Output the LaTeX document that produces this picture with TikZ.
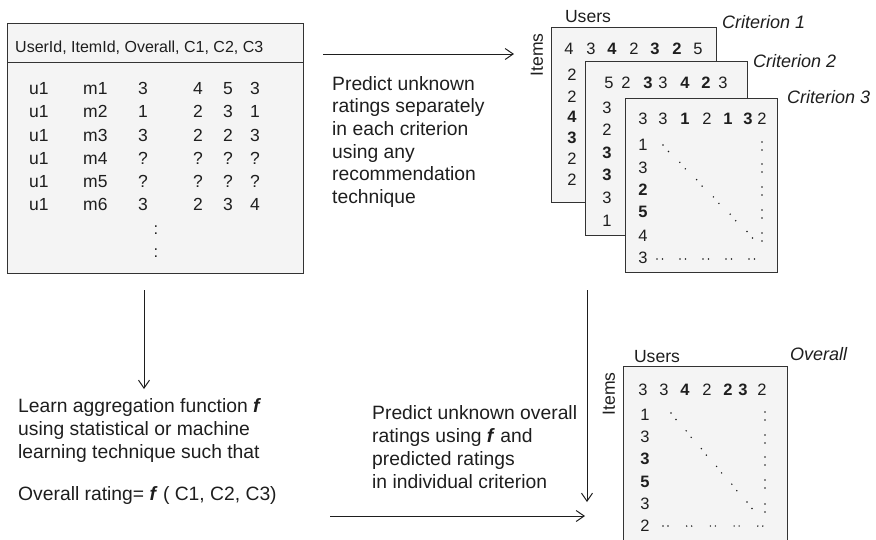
\documentclass[tikz,border=0pt]{standalone}
\usepackage{fontspec}
\setmainfont{Liberation Sans}
\usetikzlibrary{positioning,arrows.meta}
\definecolor{ink}{HTML}{1E1E1E}
\definecolor{rim}{HTML}{333333}
\definecolor{pane}{HTML}{F4F4F4}

\begin{document}
\begin{tikzpicture}[
  x=1pt, y=-1pt,
  font=\fontsize{19.3}{22.7}\selectfont,
  pane/.style={draw=rim, line width=1.1pt, fill=pane, inner sep=0pt, anchor=north west},
  txt/.style={align=left, inner sep=0pt, anchor=base west, text=ink},
  cell/.style={inner sep=0pt, anchor=base west, text=ink, font=\fontsize{17.5}{20}\selectfont},
  num/.style={inner sep=0pt, text=ink, font=\fontsize{16.5}{19}\selectfont},
  lab/.style={inner sep=0pt, text=ink, font=\fontsize{17.6}{20}\selectfont},
  crit/.style={inner sep=0pt, anchor=base west, text=ink, font=\itshape\fontsize{18}{20}\selectfont},
  dot/.style={fill=ink},
  flow/.style={-{Straight Barb[length=8pt,width=11pt]}, line width=1pt, ink}
]
\useasboundingbox (0,0) rectangle (876,539);

% ---------------------------------------------------------------- ratings table
\node[pane, minimum width=296, minimum height=250] (tbl) at (7,23) {};
\coordinate (hl) at (7,62);
\draw[rim, line width=1pt] (hl) -- (hl -| tbl.east);
\node[cell, font=\fontsize{16}{18}\selectfont] (hdr) at (15,52) {UserId, ItemId, Overall, C1, C2, C3};
\foreach \ry/\m/\o/\ca/\cb/\cc [count=\k] in
  {94/m1/3/4/5/3, 117.5/m2/1/2/3/1, 141/m3/3/2/2/3, 164/m4/?/?/?/?, 187.5/m5/?/?/?/?, 210/m6/3/2/3/4} {
  \node[cell] (u\k) at (29,\ry) {u1};
  \node[cell] (m\k) at (83,\ry) {\m};
  \node[cell] (o\k) at (138,\ry) {\o};
  \node[cell] (ca\k) at (193,\ry) {\ca};
  \node[cell] (cb\k) at (223,\ry) {\cb};
  \node[cell] (cc\k) at (250,\ry) {\cc};
}
\node[num] (vd1) at (156,230) {:};
\node[num] (vd2) at (156,253) {:};

% ---------------------------------------------------------------- criterion 1
\node[lab, anchor=base] (usr1) at (588,22) {Users};
\node[lab, rotate=90] (itm1) at (537,55) {Items};
\node[pane, minimum width=165, minimum height=175] (crit1) at (551,27) {};
\node[crit] (name1) at (722,28) {Criterion 1};
\foreach \px/\d [count=\k] in {569/4, 591/3, 612/\textbf{4}, 634/2, 655/\textbf{3}, 677/\textbf{2}, 698/5}
  \node[num] (ar\k) at (\px,49) {\d};
\foreach \py/\d [count=\k] in {75/2, 96.5/2, 117/\textbf{4}, 137.5/\textbf{3}, 158.5/2, 180/2}
  \node[num] (ac\k) at (572,\py) {\d};

% ---------------------------------------------------------------- criterion 2
\node[pane, minimum width=162, minimum height=174] (crit2) at (585,61) {};
\node[crit] (name2) at (753,67) {Criterion 2};
\foreach \px/\d [count=\k] in {609/5, 626/2, 648/\textbf{3}, 663/3, 685/\textbf{4}, 706/\textbf{2}, 723/3}
  \node[num] (br\k) at (\px,82.5) {\d};
\foreach \py/\d [count=\k] in {108/3, 130/2, 153/\textbf{3}, 174.5/\textbf{3}, 197.5/3, 221/1}
  \node[num] (bc\k) at (607,\py) {\d};

% ---------------------------------------------------------------- criterion 3
\node[pane, minimum width=152, minimum height=174] (crit3) at (625,98) {};
\node[crit] (name3) at (787,103) {Criterion 3};
\foreach \px/\d [count=\k] in {643/3, 663/3, 685/\textbf{1}, 707/2, 728/\textbf{1}, 748/\textbf{3}, 762/2}
  \node[num] (cr\k) at (\px,119) {\d};
\foreach \py/\d [count=\k] in {145/1, 168/3, 190/\textbf{2}, 212/\textbf{5}, 236/4, 258/3}
  \node[num] (cc\k) at (643,\py) {\d};
\foreach \i in {0,...,5} {
  \fill[dot] ({663+16.8*\i},{145+17.3*\i}) circle (0.8);
  \fill[dot] ({668.5+16.8*\i},{151.5+17.3*\i}) circle (0.8);
}
\foreach \ry in {146,168,191,214,237} {
  \fill[dot] (762,{\ry-4}) circle (0.8);
  \fill[dot] (762,{\ry+4}) circle (0.8);
}
\foreach \i in {0,...,4} {
  \fill[dot] ({657+23*\i},259) circle (0.8);
  \fill[dot] ({662.5+23*\i},259) circle (0.8);
}

% ---------------------------------------------------------------- overall
\node[lab, anchor=base] (usr0) at (657,362) {Users};
\node[lab, rotate=90] (itm0) at (609,394) {Items};
\node[pane, minimum width=164, minimum height=185] (ovr) at (623,366) {};
\node[crit] (name0) at (790,360) {Overall};
\foreach \px/\d [count=\k] in {643/3, 664/3, 685/\textbf{4}, 707/2, 728/\textbf{2}, 743/\textbf{3}, 762/2}
  \node[num] (or\k) at (\px,390) {\d};
\foreach \py/\d [count=\k] in {415/1, 437/3, 459/\textbf{3}, 482/\textbf{5}, 504/3, 526/2}
  \node[num] (oc\k) at (645,\py) {\d};
\foreach \i in {0,...,5} {
  \fill[dot] ({671+15.2*\i},{413+17.8*\i}) circle (0.8);
  \fill[dot] ({676+15.2*\i},{419.5+17.8*\i}) circle (0.8);
}
\foreach \ry in {416,439,461,484,508} {
  \fill[dot] (765,{\ry-4}) circle (0.8);
  \fill[dot] (765,{\ry+4}) circle (0.8);
}
\foreach \i in {0,...,4} {
  \fill[dot] ({663+23.7*\i},526) circle (0.8);
  \fill[dot] ({668+23.7*\i},526) circle (0.8);
}

% ---------------------------------------------------------------- notes (anchored at the last baseline)
\node[txt] (sep) at (332,203.5)
  {Predict unknown\\ratings separately\\in each criterion\\using any\\recommendation\\technique};
\node[txt] (learn) at (18,500)
  {Learn aggregation function \textbf{\textit{f}}\\using statistical or machine\\learning technique such that\\[19pt]Overall rating= \textbf{\textit{f}} ( C1, C2, C3)};
\node[txt] (agg) at (372,488)
  {Predict unknown overall\\ratings using \textbf{\textit{f}} and\\predicted ratings\\in individual criterion};

% ---------------------------------------------------------------- arrows
\coordinate (s1) at (323,54);  \coordinate (e1) at (514,54);
\coordinate (s2) at (144,290); \coordinate (e2) at (144,389);
\coordinate (s3) at (587,290); \coordinate (e3) at (587,502);
\coordinate (s4) at (330,516); \coordinate (e4) at (585,516);
\draw[flow] (s1) -- (e1);
\draw[flow] (s2) -- (e2);
\draw[flow] (s3) -- (e3);
\draw[flow] (s4) -- (e4);
\end{tikzpicture}
\end{document}
